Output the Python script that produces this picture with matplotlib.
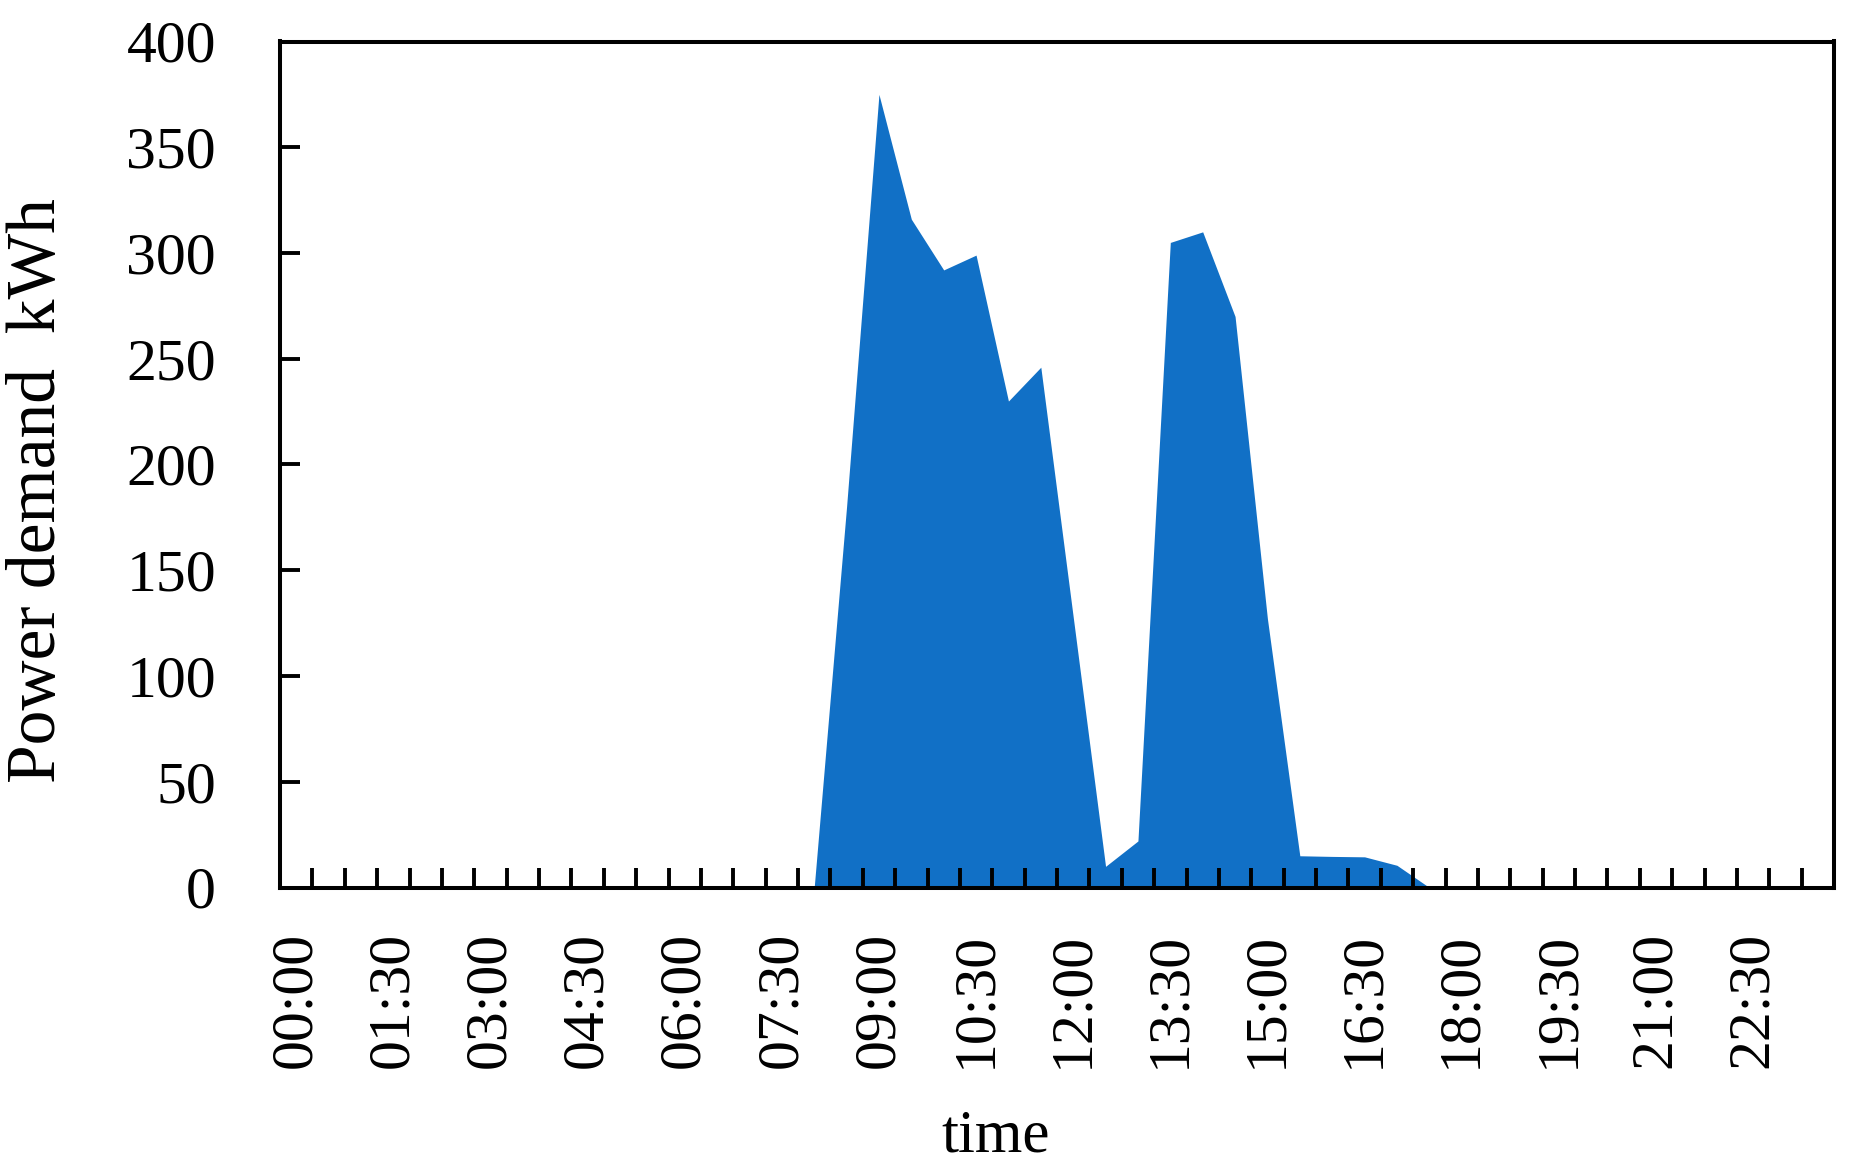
import numpy as np
import matplotlib
matplotlib.use('Agg')
import matplotlib.pyplot as plt

# half-hourly slots 00:00 .. 23:30
slots = ['%02d:%02d' % (h, m) for h in range(24) for m in (0, 30)]

# power demand per slot (kWh)
demand = [0, 0, 0, 0, 0, 0, 0, 0, 0, 0, 0, 0, 0, 0, 0, 0,
          0, 180, 375, 316, 292, 299, 230, 246, 128, 10, 22, 305,
          310, 270, 127, 15, 14.7, 14.5, 10.5, 0, 0, 0, 0, 0,
          0, 0, 0, 0, 0, 0, 0, 0]

# every third slot gets a label
label_step = 3
y_ticks = [0, 50, 100, 150, 200, 250, 300, 350, 400]

plt.rcParams['font.family'] = ['Liberation Serif', 'DejaVu Serif']

fig = plt.figure(figsize=(18.55, 11.65), dpi=100)
ax = fig.add_axes([280 / 1855, 1 - 887.5 / 1165, (1834 - 280) / 1855, (887.5 - 41.5) / 1165])

x = np.arange(len(slots))
ax.fill_between(x, demand, 0, color='#1170c6', linewidth=0)

ax.set_xlim(-0.5, len(slots) - 0.5)
ax.set_ylim(0, 400)

# labels at slot centres, tick marks between slots
ax.set_xticks(x[::label_step])
ax.set_xticklabels(slots[::label_step], rotation=90, fontsize=43)
ax.set_xticks(np.arange(0.5, len(slots) - 0.5, 1), minor=True)
ax.tick_params(axis='x', which='major', length=0, pad=32)
ax.tick_params(axis='x', which='minor', direction='in', length=14.5, width=2.8)

ax.set_yticks(y_ticks)
ax.set_yticklabels([str(v) for v in y_ticks], fontsize=43)
ax.tick_params(axis='y', direction='in', length=14.5, width=2.8, pad=46)
ax.tick_params(right=False, top=False)

# no tick marks on the corners
yt = ax.yaxis.get_major_ticks()
yt[0].tick1line.set_visible(False)
yt[-1].tick1line.set_visible(False)

for side in ['left', 'right', 'top', 'bottom']:
    ax.spines[side].set_linewidth(2.9)

fig.text(996 / 1855, 1 - 1151 / 1165, 'time', ha='center', va='baseline', fontsize=44)
fig.text(38 / 1855, 1 - 491 / 1165, 'Power demand  kWh', rotation=90,
         ha='center', va='center', fontsize=50)

fig.savefig('out.png', dpi=100)
